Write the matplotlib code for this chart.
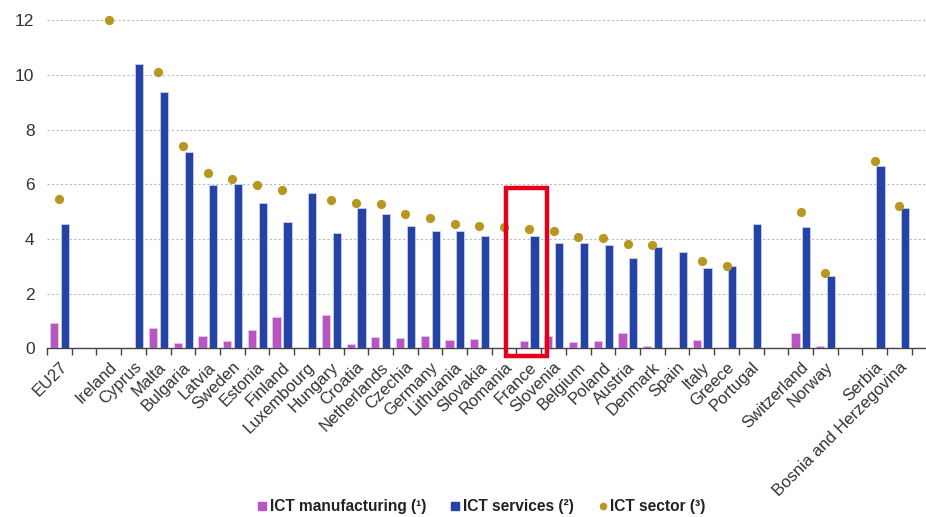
import matplotlib
matplotlib.use("Agg")
import matplotlib.pyplot as plt
import numpy as np
from matplotlib.patches import Rectangle
from matplotlib.lines import Line2D

plt.rcParams['font.family'] = ['Liberation Sans', 'DejaVu Sans']

countries = ["EU27", "", "Ireland", "Cyprus", "Malta", "Bulgaria", "Latvia", "Sweden",
             "Estonia", "Finland", "Luxembourg", "Hungary", "Croatia", "Netherlands",
             "Czechia", "Germany", "Lithuania", "Slovakia", "Romania", "France",
             "Slovenia", "Belgium", "Poland", "Austria", "Denmark", "Spain", "Italy",
             "Greece", "Portugal", "", "Switzerland", "Norway", "", "Serbia",
             "Bosnia and Herzegovina"]
nan = np.nan
ict_manufacturing = [0.92, nan, nan, nan, 0.73, 0.18, 0.45, 0.26, 0.66, 1.15,
                     nan, 1.23, 0.15, 0.41, 0.38, 0.46, 0.30, 0.34, nan, 0.26,
                     0.46, 0.22, 0.26, 0.55, 0.10, nan, 0.30, nan, nan, nan,
                     0.55, 0.10, nan, nan, 0.06]
ict_services = [4.54, nan, nan, 10.40, 9.39, 7.20, 5.96, 6.00, 5.31, 4.62,
                5.68, 4.22, 5.15, 4.90, 4.49, 4.29, 4.29, 4.10, nan, 4.10,
                3.85, 3.85, 3.77, 3.29, 3.70, 3.52, 2.93, 3.00, 4.54, nan,
                4.45, 2.63, nan, 6.68, 5.13]
ict_sector = [5.46, nan, 12.0, nan, 10.13, 7.39, 6.42, 6.21, 5.97, 5.81,
              nan, 5.44, 5.33, 5.29, 4.93, 4.76, 4.56, 4.48, 4.43, 4.37,
              4.29, 4.07, 4.04, 3.83, 3.78, nan, 3.18, 3.02, nan, nan,
              5.00, 2.74, nan, 6.87, 5.21]
yticks = [0, 2, 4, 6, 8, 10, 12]
legend_labels = ["ICT manufacturing (¹)", "ICT services (²)", "ICT sector (³)"]

C_MAN = "#B955C2"
C_SER = "#2443A5"
C_SEC = "#B8961F"

W, H = 926, 517
fig = plt.figure(figsize=(W / 100, H / 100), dpi=100)
ax = fig.add_axes([47 / W, 1 - 348.3 / H, (W - 47) / W, (348.3 - 20.5) / H])

x = np.arange(len(countries))
n = len(countries)
ax.bar(x - 0.21, ict_manufacturing, width=0.33, color=C_MAN, edgecolor="#e6c8ea",
       linewidth=0.6, zorder=3)
ax.bar(x + 0.23, ict_services, width=0.33, color=C_SER, edgecolor="#c8d0ee",
       linewidth=0.6, zorder=3)
ax.plot(x, ict_sector, linestyle="none", marker="o", markersize=5.6, color=C_SEC,
        zorder=4, clip_on=False)

ax.set_xlim(-0.5, -0.5 + (W - 47) / 24.71)
ax.set_ylim(0, 12)

ax.set_yticks(yticks)
ax.set_yticklabels([str(v) for v in yticks], fontsize=12.5, color="#333333")
ax.tick_params(axis="y", length=0, pad=9)
ax.yaxis.grid(True, linestyle=(0, (2, 2)), color="#bbbbbb", linewidth=0.8)
ax.set_axisbelow(True)

ax.set_xticks(x)
ax.set_xticklabels(countries, rotation=45, ha="right", rotation_mode="anchor",
                   fontsize=12, color="#333333")
ax.set_xticks(np.arange(-0.5, n + 0.5, 1.0), minor=True)
ax.tick_params(axis="x", which="major", length=0, pad=8)
ax.tick_params(axis="x", which="minor", length=5, width=1, color="#444444")

for s in ["top", "right", "left"]:
    ax.spines[s].set_visible(False)
ax.spines["bottom"].set_color("#444444")
ax.spines["bottom"].set_linewidth(1.0)

# red highlight box around France
fr = countries.index("France")
ax.add_patch(Rectangle((fr - 0.93, -0.28), 1.66, 6.14, fill=False, edgecolor="#E2001A",
                       linewidth=3.2, clip_on=False, zorder=6))

handles = [
    Line2D([], [], linestyle="none", marker="s", markersize=6, color=C_MAN),
    Line2D([], [], linestyle="none", marker="s", markersize=6, color=C_SER),
    Line2D([], [], linestyle="none", marker="o", markersize=4.5, color=C_SEC),
]
leg = fig.legend(handles, legend_labels, loc="center", bbox_to_anchor=(482 / W, 1 - 507 / H),
                 ncol=3, frameon=False, fontsize=11.2, handlelength=0.5, handletextpad=0.25,
                 columnspacing=1.6)
for t in leg.get_texts():
    t.set_fontweight("bold")
    t.set_color("#222222")

fig.savefig("out.png", dpi=100)
